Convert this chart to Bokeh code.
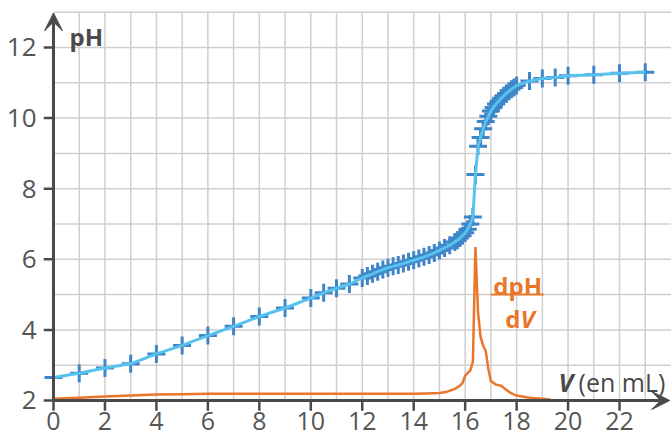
from bokeh.plotting import figure
from bokeh.models import Range1d, Arrow, VeeHead, Label
from bokeh.core.properties import value
from bokeh.embed import file_html
from bokeh.resources import INLINE

# --- data ---
volume = [0, 1, 2, 3, 4, 5, 6, 7, 8, 9, 10, 10.5, 11, 11.5, 12,
          12.2, 12.4, 12.6, 12.8, 13.0, 13.2, 13.4, 13.6, 13.8, 14.0,
          14.2, 14.4, 14.6, 14.8, 15.0, 15.2, 15.4, 15.6, 15.7, 15.8,
          15.9, 16.0, 16.1, 16.2, 16.3, 16.4, 16.5, 16.6, 16.7, 16.8,
          16.9, 17.0, 17.1, 17.2, 17.3, 17.4, 17.5, 17.6, 17.7, 17.8,
          17.9, 18.0, 18.5, 19.0, 19.5, 20.0, 21.0, 22.0, 23.0]
ph = [2.65, 2.77, 2.92, 3.04, 3.32, 3.56, 3.84, 4.10, 4.38, 4.62, 4.90, 5.05, 5.18, 5.30, 5.47,
      5.53, 5.59, 5.65, 5.71, 5.76, 5.80, 5.84, 5.88, 5.93, 5.97,
      6.02, 6.07, 6.12, 6.18, 6.25, 6.32, 6.40, 6.49, 6.54, 6.60,
      6.67, 6.75, 6.85, 7.00, 7.20, 8.40, 9.20, 9.45, 9.70, 9.90,
      10.05, 10.20, 10.30, 10.40, 10.48, 10.56, 10.63, 10.70, 10.76, 10.82,
      10.87, 10.92, 11.05, 11.12, 11.15, 11.20, 11.23, 11.27, 11.30]

deriv_volume = [0, 1, 2, 3, 4, 5, 6, 8, 10, 12, 14, 14.5, 15.0, 15.3, 15.6, 15.8,
                15.9, 16.0, 16.1, 16.2, 16.3, 16.4, 16.5, 16.6, 16.7, 16.8, 16.9,
                17.0, 17.2, 17.4, 17.6, 17.8, 18.0, 18.5, 19.0, 19.3]
deriv_value = [2.05, 2.08, 2.11, 2.14, 2.17, 2.18, 2.19, 2.19, 2.19, 2.19, 2.19, 2.20, 2.21, 2.25, 2.33, 2.42,
               2.50, 2.70, 2.78, 2.85, 3.10, 6.35, 4.50, 3.80, 3.55, 3.40, 2.90,
               2.55, 2.45, 2.42, 2.30, 2.20, 2.14, 2.08, 2.05, 2.03]

x_ticks = [0, 2, 4, 6, 8, 10, 12, 14, 16, 18, 20, 22]
x_tick_labels = ["0", "2", "4", "6", "8", "10", "12", "14", "16", "18", "20", "22"]
y_ticks = [2, 4, 6, 8, 10, 12]
y_tick_labels = ["2", "4", "6", "8", "10", "12"]
x_grid = list(range(1, 24))
y_grid = list(range(3, 14))

X_MIN, X_MAX = 0, 23       # extent of the graph paper
Y_MIN, Y_MAX = 2, 13
X_ARROW, Y_ARROW = 23.95, 12.98

AXIS = "#4a4a4a"
TXT = "#555555"
GRID = "#cfcfcf"
ORANGE = "#e9772b"
BLUE_LINE = "#57c2ee"
BLUE_MARK = "#3e86c8"
FONT = "Open Sans"

x_range = Range1d(-2.06, 24.02)
y_range = Range1d(0.895, 13.331)
p = figure(width=671, height=439, output_backend="svg", toolbar_location=None,
           x_range=x_range, y_range=y_range,
           x_axis_location=None, y_axis_location=None,
           min_border=0)
p.outline_line_color = None
p.grid.visible = False
p.background_fill_color = "white"

# graph-paper grid
p.segment(x0=x_grid, y0=[Y_MIN] * len(x_grid), x1=x_grid, y1=[Y_MAX] * len(x_grid),
          line_color=GRID, line_width=1.5)
p.segment(x0=[X_MIN] * len(y_grid), y0=y_grid, x1=[x_range.end] * len(y_grid), y1=y_grid,
          line_color=GRID, line_width=1.5)

# tick marks (outside the axes)
p.segment(x0=[X_MIN] * len(y_ticks), y0=y_ticks, x1=[X_MIN - 0.38] * len(y_ticks), y1=y_ticks,
          line_color=AXIS, line_width=2.5)
p.segment(x0=x_ticks, y0=[Y_MIN] * len(x_ticks), x1=x_ticks, y1=[Y_MIN - 0.29] * len(x_ticks),
          line_color=AXIS, line_width=2.5)

# axis lines
p.segment(x0=[X_MIN, X_MIN], y0=[Y_MIN, Y_MIN], x1=[X_MIN, X_ARROW - 0.4], y1=[Y_ARROW - 0.3, Y_MIN],
          line_color=AXIS, line_width=3)

# tick labels
p.text(x=x_ticks, y=[Y_MIN] * len(x_ticks), text=x_tick_labels, y_offset=21,
       text_font=value(FONT), text_font_size=value("25px"), text_color=TXT,
       text_align="center", text_baseline="middle")
p.text(x=[X_MIN] * len(y_ticks), y=y_ticks, text=y_tick_labels, x_offset=-17,
       text_font=value(FONT), text_font_size=value("26px"), text_color=TXT,
       text_align="right", text_baseline="middle")

# derivative curve
p.line(deriv_volume, deriv_value, line_width=2.5, line_color=ORANGE)
# pH curve: markers then line
p.scatter(volume, ph, marker="cross", size=18, line_width=3, line_color=BLUE_MARK)
p.line(volume, ph, line_width=3, line_color=BLUE_LINE)

# arrow heads
p.add_layout(Arrow(end=VeeHead(size=18, fill_color=AXIS, line_color=AXIS),
                   x_start=X_MIN, y_start=Y_MIN, x_end=X_MIN, y_end=Y_ARROW,
                   line_width=3, line_color=AXIS))
p.add_layout(Arrow(end=VeeHead(size=18, fill_color=AXIS, line_color=AXIS),
                   x_start=X_MIN, y_start=Y_MIN, x_end=X_ARROW, y_end=Y_MIN,
                   line_width=3, line_color=AXIS))

# axis titles
p.add_layout(Label(x=0.62, y=12.31, text="pH", text_font=FONT, text_font_style="bold",
                   text_font_size="24px", text_color=AXIS, text_baseline="alphabetic"))
p.add_layout(Label(x=19.63, y=2.51, text="V", text_font=FONT, text_font_style="bold italic",
                   text_font_size="25px", text_color=AXIS, text_baseline="alphabetic"))
p.add_layout(Label(x=20.41, y=2.51, text="(en mL)", text_font=FONT,
                   text_font_size="25px", text_color=AXIS, text_baseline="alphabetic"))

# dpH/dV fraction
p.add_layout(Label(x=18.04, y=5.26, text="dpH", text_font=FONT, text_font_style="bold",
                   text_font_size="24px", text_color=ORANGE, text_align="center",
                   text_baseline="alphabetic"))
p.segment(x0=[16.99], y0=[5.0], x1=[19.05], y1=[5.0], line_width=2, line_color=ORANGE)
p.add_layout(Label(x=18.15, y=4.32, text="d", text_font=FONT, text_font_style="bold",
                   text_font_size="24px", text_color=ORANGE, text_align="right",
                   text_baseline="alphabetic"))
p.add_layout(Label(x=18.15, y=4.32, text="V", text_font=FONT, text_font_style="bold italic",
                   text_font_size="24px", text_color=ORANGE, text_align="left",
                   text_baseline="alphabetic"))

open("out.html", "w").write(file_html(p, INLINE))
